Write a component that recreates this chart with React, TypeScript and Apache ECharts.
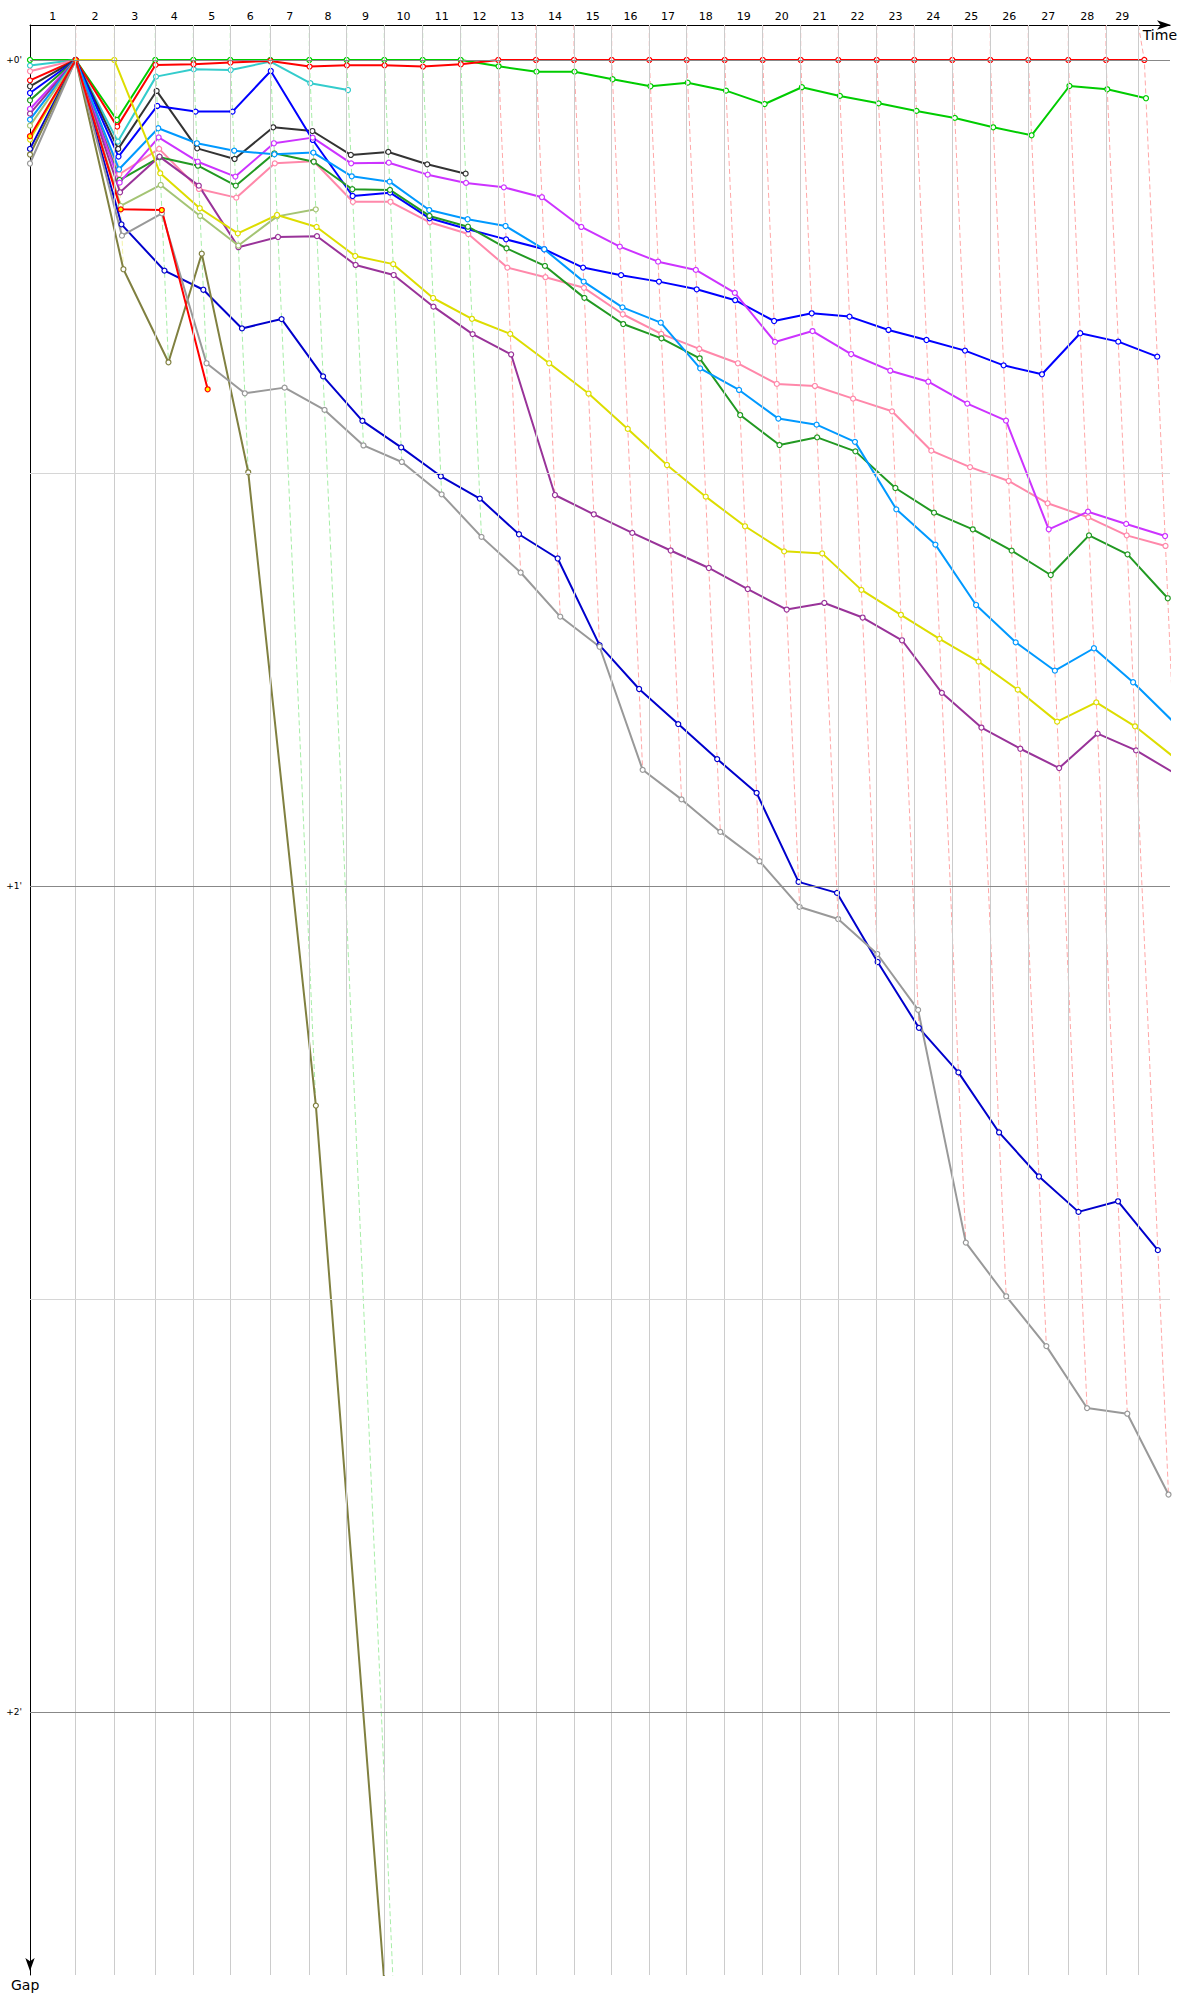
import React, { useEffect, useRef } from 'react';
import * as echarts from 'echarts';

// ---- data (time in seconds, gap in seconds) ----
const lapLabels = ['1', '2', '3', '4', '5', '6', '7', '8', '9', '10', '11', '12', '13', '14', '15', '16', '17', '18', '19', '20', '21', '22', '23', '24', '25', '26', '27', '28', '29'];
// vertical grid lines: leader's lap-end times
const lapGridTimes = [76.2, 140.5, 208.8, 272.2, 333.8, 400.5, 465.5, 527.8, 590.5, 654.5, 717.8, 780.5, 843.3, 906.7, 969.5, 1032.2, 1094.5, 1157.8, 1221.2, 1284.5, 1347.2, 1411.2, 1473.8, 1537.2, 1600.5, 1663.8, 1730.5, 1793.3, 1847.2];
// leader's crossing time for each lap
const leaderCrossTimes = [76.2, 140.5, 208.8, 272.2, 333.8, 400.5, 465.5, 527.8, 590.5, 654.5, 717.8, 780.5, 843.3, 906.7, 969.5, 1032.2, 1094.5, 1157.8, 1221.2, 1284.5, 1347.2, 1411.2, 1473.8, 1537.2, 1600.5, 1663.8, 1730.5, 1793.3, 1857.2];
const lapLeaders = ['RedYellow', 'Yellow', 'Green', 'Green', 'Green', 'Green', 'Green', 'Green', 'Green', 'Green', 'Green', 'Red', 'Red', 'Red', 'Red', 'Red', 'Red', 'Red', 'Red', 'Red', 'Red', 'Red', 'Red', 'Red', 'Red', 'Red', 'Red', 'Red', 'Red'];
const startTime = 0;
const gapLabelValues = [0, 60, 120];
const gapLabels = ["+0'", "+1'", "+2'"];
const gapGridMajor = [0, 60, 120];
const gapGridMinor = [30, 90];

// gaps to the leader, index = lap (0 = start)
const greenGaps = [0, 0, 4.36, 0, 0, 0, 0, 0, 0, 0, 0, 0, 0.46, 0.85, 0.85, 1.4, 1.91, 1.65, 2.23, 3.2, 1.98, 2.61, 3.15, 3.7, 4.21, 4.89, 5.47, 1.89, 2.13, 2.78];
const cyanGaps = [0.41, 0, 5.93, 1.21, 0.68, 0.73, 0.12, 1.69, 2.18];
const pinkGaps = [0.82, 0, 8.3, 6.46, 9.37, 10.0, 7.51, 7.36, 10.3, 10.3, 11.79, 12.64, 15.08, 15.78, 16.55, 18.47, 19.9, 20.99, 22.03, 23.53, 23.68, 24.6, 25.52, 28.38, 29.57, 30.58, 32.2, 33.22, 34.53, 35.3];
const redGaps = [1.48, 0, 4.84, 0.36, 0.31, 0.19, 0.07, 0.48, 0.39, 0.39, 0.48, 0.31, 0, 0, 0, 0, 0, 0, 0, 0, 0, 0, 0, 0, 0, 0, 0, 0, 0, 0];
const blackGaps = [1.91, 0, 6.46, 2.25, 6.42, 7.19, 4.89, 5.16, 6.9, 6.68, 7.58, 8.26];
const blueGaps = [2.4, 0, 7.02, 3.34, 3.75, 3.75, 0.8, 5.81, 9.88, 9.64, 11.5, 12.3, 13.03, 13.75, 15.08, 15.63, 16.1, 16.66, 17.45, 18.96, 18.4, 18.64, 19.61, 20.34, 21.11, 22.18, 22.83, 19.85, 20.46, 21.55];
const darkGreenGaps = [2.93, 0, 8.72, 7.07, 7.68, 9.13, 6.78, 7.39, 9.39, 9.44, 11.33, 12.11, 13.68, 14.96, 17.28, 19.18, 20.22, 21.67, 25.79, 27.97, 27.41, 28.43, 31.09, 32.88, 34.09, 35.64, 37.41, 34.53, 35.91, 39.1];
const magentaGaps = [3.56, 0, 8.91, 5.62, 7.39, 8.47, 6.05, 5.64, 7.51, 7.46, 8.33, 8.93, 9.25, 9.97, 12.13, 13.56, 14.65, 15.25, 16.92, 20.48, 19.69, 21.36, 22.57, 23.37, 24.96, 26.2, 34.09, 32.81, 33.7, 34.58];
const purpleGaps = [3.9, 0, 9.61, 7.02, 9.13, 13.6, 12.86, 12.8, 14.89, 15.62, 17.92, 19.91, 21.39, 31.6, 33.0, 34.35, 35.63, 36.9, 38.43, 39.92, 39.44, 40.5, 42.15, 45.97, 48.49, 50.03, 51.43, 48.93, 50.15, 51.85];
const lightBlueGaps = [4.33, 0, 7.94, 4.96, 6.05, 6.59, 6.85, 6.73, 8.45, 8.84, 10.9, 11.57, 12.06, 13.75, 16.1, 17.97, 19.08, 22.4, 23.97, 26.05, 26.49, 27.74, 32.64, 35.2, 39.59, 42.3, 44.36, 42.73, 45.2, 48.06];
const yellowGreenGaps = [4.77, 0, 10.6, 9.08, 11.33, 13.48, 11.36, 10.85];
const yellowGaps = [5.78, 0, 0, 8.23, 10.77, 12.6, 11.26, 12.13, 14.24, 14.83, 17.29, 18.8, 19.9, 22.03, 24.23, 26.8, 29.42, 31.72, 33.87, 35.69, 35.84, 38.49, 40.3, 42.05, 43.7, 45.74, 48.06, 46.66, 48.4, 50.69];
const darkBlueGaps = [6.46, 0, 11.94, 15.3, 16.69, 19.5, 18.82, 22.98, 26.21, 28.14, 30.24, 31.86, 34.45, 36.21, 42.5, 45.69, 48.24, 50.78, 53.24, 59.7, 60.5, 65.52, 70.3, 73.54, 77.9, 81.1, 83.67, 82.9, 86.45];
const oliveGaps = [6.87, 0, 15.2, 21.96, 14.07, 29.95, 75.95, 158];
const grayGaps = [7.52, 0, 12.76, 11.14, 22.03, 24.21, 23.8, 25.42, 28.0, 29.2, 31.55, 34.64, 37.23, 40.43, 42.62, 51.56, 53.71, 56.07, 58.2, 61.52, 62.4, 64.94, 69.0, 85.9, 89.8, 93.42, 97.92, 98.33, 104.2];
const redYellowGaps = [5.54, 0, 10.85, 10.9, 23.92];

const drivers = [
  { name: 'Green', color: '#00cc00', fill: '#ffffff', gaps: greenGaps },
  { name: 'Cyan', color: '#33cccc', fill: '#ffffff', gaps: cyanGaps },
  { name: 'Pink', color: '#ff88aa', fill: '#ffffff', gaps: pinkGaps },
  { name: 'Red', color: '#ff0000', fill: '#ffffff', gaps: redGaps },
  { name: 'Black', color: '#333333', fill: '#ffffff', gaps: blackGaps },
  { name: 'Blue', color: '#0000ff', fill: '#ffffff', gaps: blueGaps },
  { name: 'DarkGreen', color: '#229922', fill: '#ffffff', gaps: darkGreenGaps },
  { name: 'Magenta', color: '#cc33ff', fill: '#ffffff', gaps: magentaGaps },
  { name: 'Purple', color: '#993399', fill: '#ffffff', gaps: purpleGaps },
  { name: 'LightBlue', color: '#0099ff', fill: '#ffffff', gaps: lightBlueGaps },
  { name: 'YellowGreen', color: '#a4c474', fill: '#ffffff', gaps: yellowGreenGaps },
  { name: 'Yellow', color: '#dddd00', fill: '#ffffff', gaps: yellowGaps },
  { name: 'DarkBlue', color: '#0000cc', fill: '#ffffff', gaps: darkBlueGaps },
  { name: 'Olive', color: '#808040', fill: '#ffffff', gaps: oliveGaps },
  { name: 'Gray', color: '#999999', fill: '#ffffff', gaps: grayGaps },
  { name: 'RedYellow', color: '#ff0000', fill: '#ffff00', gaps: redYellowGaps },
];

const X_MAX = 1900;
const Y_MIN = -2.54;
const Y_MAX = 139.1;
const FONT = 'DejaVu Sans';

function pointsOf(gaps: number[]) {
  return gaps.map((g, lap) => [lap === 0 ? startTime : leaderCrossTimes[lap - 1] + g, g]);
}

function buildOption() {
  const labelMids = lapGridTimes.map((t, i) => ((i === 0 ? startTime : lapGridTimes[i - 1]) + t) / 2);
  const colorByName: Record<string, string> = {};
  drivers.forEach((d) => (colorByName[d.name] = d.color));

  const gridSeries = {
    type: 'line',
    data: [],
    z: 0,
    silent: true,
    markLine: {
      silent: true,
      symbol: ['none', 'none'],
      label: { show: false },
      emphasis: { disabled: true },
      animation: false,
      data: [
        ...lapGridTimes.map((t) => ({ xAxis: t, lineStyle: { color: '#cccccc', width: 1, type: 'solid' } })),
        ...gapGridMinor.map((v) => ({ yAxis: v, lineStyle: { color: '#d6d6d6', width: 1, type: 'solid' } })),
        ...gapGridMajor.map((v) => ({ yAxis: v, lineStyle: { color: '#888888', width: 1, type: 'solid' } })),
      ],
    },
  };

  const lapLineSeries = lapGridTimes.map((gt, i) => {
    const lap = i + 1;
    const pts = drivers
      .filter((d) => d.gaps.length > lap)
      .map((d) => [leaderCrossTimes[i] + d.gaps[lap], d.gaps[lap]])
      .sort((a, b) => a[1] - b[1]);
    return {
      type: 'line',
      data: [[gt, Y_MIN], ...pts],
      symbol: 'none',
      silent: true,
      z: 1,
      lineStyle: { color: colorByName[lapLeaders[i]], opacity: 0.35, width: 1, type: [5, 3] },
      emphasis: { disabled: true },
    };
  });

  const driverSeries = drivers.map((d) => ({
    type: 'line',
    name: d.name,
    data: pointsOf(d.gaps),
    symbol: 'circle',
    symbolSize: 5,
    showSymbol: true,
    silent: true,
    z: 3,
    lineStyle: { color: d.color, width: 2 },
    itemStyle: { color: d.fill, borderColor: d.color, borderWidth: 1.2 },
    emphasis: { disabled: true },
  }));

  return {
    animation: false,
    backgroundColor: '#ffffff',
    textStyle: { fontFamily: FONT },
    grid: { left: 30, top: 25, width: 1140, height: 1950, containLabel: false, outerBoundsMode: 'none' },
    xAxis: {
      type: 'value',
      position: 'top',
      min: 0,
      max: X_MAX,
      axisLine: {
        show: true,
        onZero: false,
        lineStyle: { color: '#000000', width: 1 },
        symbol: ['none', 'arrow'],
        symbolSize: [7, 14],
        symbolOffset: [0, 1],
      },
      axisTick: { show: false },
      splitLine: { show: false },
      axisLabel: {
        customValues: labelMids,
        formatter: (v: number) => {
          const i = labelMids.findIndex((m) => Math.abs(m - v) < 1e-6);
          return i >= 0 ? lapLabels[i] : '';
        },
        fontSize: 11,
        fontFamily: FONT,
        color: '#000000',
        margin: 3,
      },
    },
    yAxis: {
      type: 'value',
      inverse: true,
      min: Y_MIN,
      max: Y_MAX,
      axisLine: {
        show: true,
        onZero: false,
        lineStyle: { color: '#000000', width: 1 },
        symbol: ['arrow', 'none'],
        symbolSize: [7, 13],
        symbolOffset: [4, 0],
      },
      axisTick: { show: false },
      splitLine: { show: false },
      axisLabel: {
        customValues: gapLabelValues,
        formatter: (v: number) => {
          const i = gapLabelValues.findIndex((m) => Math.abs(m - v) < 1e-6);
          return i >= 0 ? gapLabels[i] : '';
        },
        fontSize: 9,
        fontFamily: FONT,
        color: '#000000',
        margin: 8,
      },
    },
    graphic: [
      {
        type: 'text',
        x: 1177,
        y: 28,
        silent: true,
        style: { text: 'Time', fontSize: 14, fontFamily: FONT, fill: '#000000', align: 'right', verticalAlign: 'top' },
      },
      {
        type: 'text',
        x: 11,
        y: 1978,
        silent: true,
        style: { text: 'Gap', fontSize: 14, fontFamily: FONT, fill: '#000000', align: 'left', verticalAlign: 'top' },
      },
    ],
    series: [gridSeries, ...lapLineSeries, ...driverSeries],
  };
}

export default function App() {
  const ref = useRef<HTMLDivElement>(null);
  useEffect(() => {
    document.body.style.margin = '0';
    if (!ref.current) return;
    const chart = echarts.init(ref.current, null, { renderer: 'svg' });
    chart.setOption(buildOption() as any);
    return () => chart.dispose();
  }, []);
  return <div ref={ref} style={{ width: 1200, height: 2000 }} />;
}
